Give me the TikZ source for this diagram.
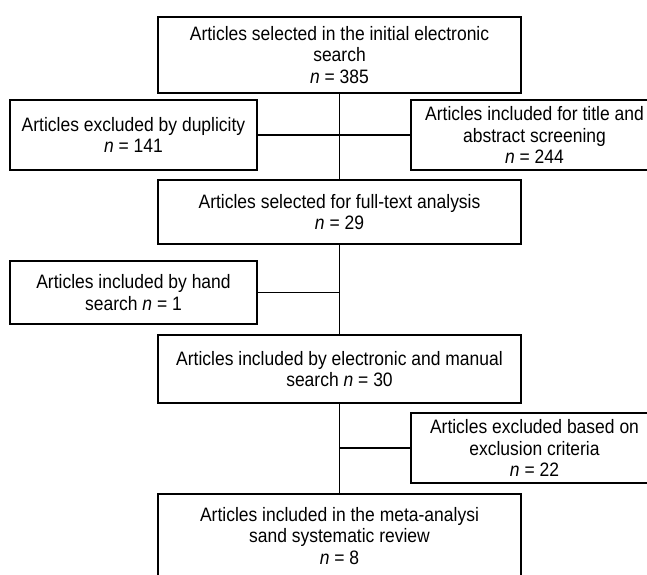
\documentclass[tikz,border=0pt]{standalone}
\usepackage{fontspec}
\setmainfont{Liberation Sans}[FakeStretch=0.9]
\usepackage{tikz}
\usetikzlibrary{calc,positioning}

\begin{document}
\begin{tikzpicture}[x=1bp,y=-1bp,line width=1.3bp,
    font=\fontsize{19.5}{21.5}\selectfont,
    box/.style 2 args={draw,align=center,inner sep=0pt,
      minimum width=#1,minimum height=#2}]
  \useasboundingbox (0,0) rectangle (647,575);
  \node[box={363bp}{76bp}] (1) at (339.5,55) {Articles selected in the initial electronic\\search\\\textit{n} = 385};
  \node[box={247bp}{70bp}] (2) at (133.5,135) {Articles excluded by duplicity\\\textit{n} = 141};
  \node[box={247bp}{70bp}] (3) at (534.5,135) {Articles included for title and\\abstract screening\\\textit{n} = 244};
  \node[box={363bp}{64bp}] (4) at (339.5,212) {Articles selected for full-text analysis\\\textit{n} = 29};
  \node[box={247bp}{63bp}] (5) at (133.5,292.5) {Articles included by hand\\search \textit{n} = 1};
  \node[box={363bp}{68bp}] (6) at (339.5,369) {Articles included by electronic and manual\\search \textit{n} = 30};
  \node[box={247bp}{70bp}] (7) at (534.5,448) {Articles excluded based on\\exclusion criteria\\\textit{n} = 22};
  \node[box={363bp}{84bp}] (8) at (339.5,536) {Articles included in the meta-analysi\\sand systematic review\\\textit{n} = 8};
  \draw (1) -- (4);
  \draw (2) -- (3);
  \draw (4) -- (6);
  \draw (5.east) -- (5.east -| 4.south);
  \draw (6) -- (8);
  \draw (7.west) -- (7.west -| 6.south);
\end{tikzpicture}
\end{document}
